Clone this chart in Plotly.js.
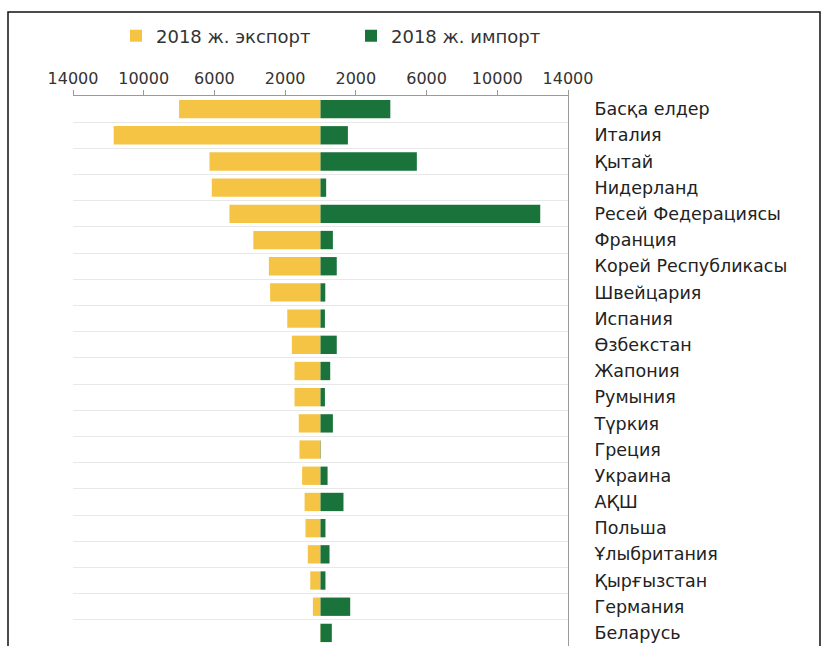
<!DOCTYPE html>
<html>
<head>
<meta charset="utf-8">
<script src="https://cdn.plot.ly/plotly-3.0.1.min.js"></script>
<style>html,body{margin:0;padding:0;background:#fff;}#chart{width:825px;height:646px;}</style>
</head>
<body>
<div id="chart"></div>
<script>
const categories = ["Басқа елдер","Италия","Қытай","Нидерланд","Ресей Федерациясы","Франция","Корей Республикасы","Швейцария","Испания","Өзбекстан","Жапония","Румыния","Түркия","Греция","Украина","АҚШ","Польша","Ұлыбритания","Қырғызстан","Германия","Беларусь"];
const exportValues = [8000,11700,6280,6150,5150,3800,2920,2850,1880,1620,1470,1470,1230,1190,1040,900,850,720,580,430,20];
const importValues = [3950,1550,5450,320,12430,700,920,270,250,920,550,250,700,20,400,1300,280,510,280,1680,640];
const tickValues = [-14000,-10000,-6000,-2000,2000,6000,10000,14000];
const tickLabels = ["14000","10000","6000","2000","2000","6000","10000","14000"];
const seriesNames = ["2018 ж. экспорт","2018 ж. импорт"];

const L = 73, R = 568, T = 96, B = 646, W = 825, H = 646;
const pw = R - L, ph = B - T;
const px = v => (v - L) / pw;
const py = v => (B - v) / ph;

const traces = [
  {type:'bar', orientation:'h', name:seriesNames[0], y:categories, x:exportValues.map(v=>-v),
   marker:{color:'#F6C445'}, hoverinfo:'skip', legend:'legend'},
  {type:'bar', orientation:'h', name:seriesNames[1], y:categories, x:importValues,
   marker:{color:'#19733B'}, hoverinfo:'skip', legend:'legend2'}
];

const legendBase = {orientation:'h', xanchor:'left', yanchor:'middle',
  font:{size:18, color:'#333'}, bgcolor:'rgba(0,0,0,0)', itemwidth:30};

const layout = {
  width:W, height:H,
  margin:{l:L, r:W-R, t:T, b:H-B, pad:0},
  paper_bgcolor:'#fff', plot_bgcolor:'#fff',
  barmode:'relative', bargap:0.3,
  font:{family:'DejaVu Sans, sans-serif', size:16, color:'#333'},
  showlegend:true,
  legend:Object.assign({}, legendBase, {x:px(116), y:py(36)}),
  legend2:Object.assign({}, legendBase, {x:px(351), y:py(36)}),
  xaxis:{side:'top', range:[-14000,14000], tickmode:'array', tickvals:tickValues, ticktext:tickLabels,
         showline:true, linecolor:'#9a9a9a', linewidth:1, ticks:'outside', ticklen:5, tickcolor:'#9a9a9a',
         showgrid:false, zeroline:false, fixedrange:true, tickfont:{size:16, color:'#333'}},
  yaxis:{type:'category', categoryorder:'array', categoryarray:categories, autorange:'reversed',
         side:'right', showline:true, linecolor:'#9a9a9a', linewidth:1, ticks:'',
         showgrid:true, gridcolor:'#e8e8e8', gridwidth:1, tickson:'boundaries',
         ticklabelstandoff:22, tickfont:{size:17.5, color:'#222'}, fixedrange:true},
  shapes:[
    {type:'rect', xref:'paper', yref:'paper', x0:px(8), x1:px(820), y0:py(660), y1:py(12),
     line:{color:'#111', width:1.5}, fillcolor:'rgba(0,0,0,0)', layer:'above'}
  ]
};

Plotly.newPlot('chart', traces, layout, {displayModeBar:false, staticPlot:true});
</script>
</body>
</html>
